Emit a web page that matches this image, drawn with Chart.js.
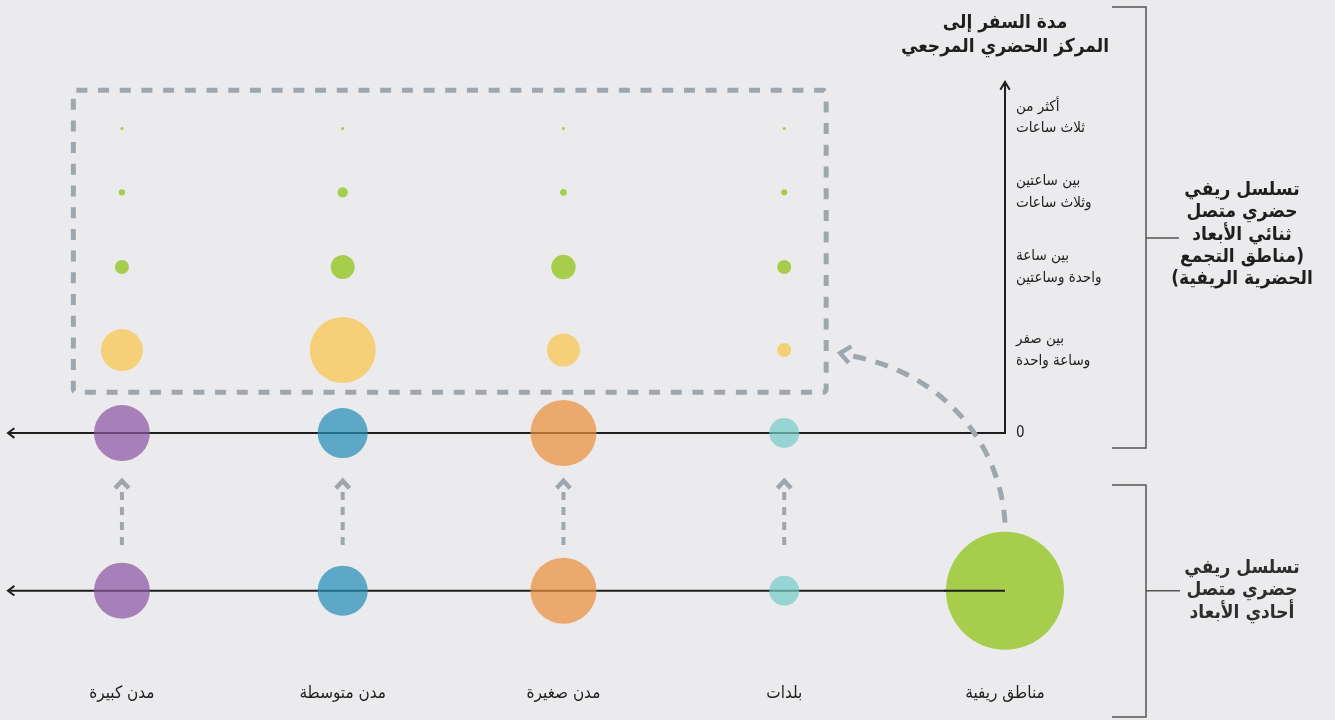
<!DOCTYPE html>
<html lang="ar">
<head>
<meta charset="utf-8">
<title>تسلسل ريفي حضري متصل</title>
<script src="https://cdn.jsdelivr.net/npm/chart.js@4.4.1/dist/chart.umd.min.js"></script>
<style>
  html, body { margin: 0; padding: 0; background: #ebebed; }
  #wrap { width: 1335px; height: 720px; }
</style>
</head>
<body>
<div id="wrap"><canvas id="chart" width="1335" height="720"></canvas></div>
<script>
// settlement types along the x-axis, rural areas first (they sit on the right)
const settlementTypes = ['مناطق ريفية', 'بلدات', 'مدن صغيرة', 'مدن متوسطة', 'مدن كبيرة'];
// travel time to the reference urban centre (y-axis); the empty line lifts the top label a little
const travelTimeLabels = ['0', ['بين صفر', 'وساعة واحدة'], ['بين ساعة', 'واحدة وساعتين'],
  ['بين ساعتين', 'وثلاث ساعات'], ['أكثر من', 'ثلاث ساعات', '']];
const travelTimeLevels = [0, 1, 2, 2.9, 3.67];
const oneDimLevel = -1.9;

// share of population (%), one-dimensional continuum
const oneDimShare = [56.1, 3.6, 17.6, 10.1, 12.6];
// two-dimensional continuum: towns and cities stay on the zero line
const urbanShare = [3.6, 17.6, 10.1, 12.6];          // بلدات .. مدن كبيرة
// rural agglomerations by travel time to their reference centre (بلدات .. مدن كبيرة)
const ruralUnder1h = [0.8, 4.4, 17.5, 7.1];
const rural1to2h = [0.8, 2.4, 2.3, 0.8];
const rural2to3h = [0.15, 0.18, 0.44, 0.16];
const ruralOver3h = [0.04, 0.04, 0.04, 0.04];

const typeColours = ['#a6ce4c', 'rgba(114,204,196,0.7)', 'rgba(235,141,56,0.7)',
  'rgba(31,139,181,0.7)', 'rgba(139,82,163,0.7)'];
const nearColour = '#f5d078';
const farColour = '#a6ce4c';
const ink = '#1f1f1f';
const dashGrey = '#9ea7ad';
const FONT = "'DejaVu Sans Condensed', 'DejaVu Sans', sans-serif";

const radiusOf = v => Math.sqrt(v) * 7.88;
const row = (values, level, first) => values.map((v, i) => ({ x: i + first, y: level, r: radiusOf(v) }));

function chevron(ctx, x, y, angle, len, spread) {
  ctx.beginPath();
  ctx.moveTo(x + len * Math.cos(angle - spread), y + len * Math.sin(angle - spread));
  ctx.lineTo(x, y);
  ctx.lineTo(x + len * Math.cos(angle + spread), y + len * Math.sin(angle + spread));
  ctx.stroke();
}

// keep Chart.js from adding room for overhanging tick labels
function noPadding(s) {
  s.paddingLeft = s.paddingRight = s.paddingTop = s.paddingBottom = 0;
}

const decorations = {
  id: 'decorations',
  beforeDatasetsDraw(chart) {
    const { ctx, chartArea } = chart;
    const xs = chart.scales.x, ys = chart.scales.y;
    const x0 = xs.getPixelForValue(0);
    const yZero = ys.getPixelForValue(0);
    const yOne = ys.getPixelForValue(oneDimLevel);
    ctx.save();

    // axes: travel-time axis and the two settlement lines
    ctx.strokeStyle = ink;
    ctx.lineWidth = 2;
    ctx.lineJoin = 'miter';
    ctx.beginPath();
    ctx.moveTo(chartArea.left, yZero);
    ctx.lineTo(x0, yZero);
    ctx.lineTo(x0, chartArea.top);
    ctx.moveTo(chartArea.left, yOne);
    ctx.lineTo(x0, yOne);
    ctx.stroke();
    chevron(ctx, chartArea.left, yZero, 0, 8, 0.65);
    chevron(ctx, chartArea.left, yOne, 0, 8, 0.65);
    chevron(ctx, x0, chartArea.top, Math.PI / 2, 9, 0.55);

    // dashed frame around the rural agglomerations
    ctx.strokeStyle = dashGrey;
    ctx.lineWidth = 5;
    ctx.setLineDash([11, 10.7]);
    const fx1 = xs.getPixelForValue(4.22), fx2 = xs.getPixelForValue(0.81);
    const fy1 = ys.getPixelForValue(4.13), fy2 = ys.getPixelForValue(0.49);
    ctx.beginPath();
    ctx.roundRect(fx1, fy1, fx2 - fx1, fy2 - fy1, 3);
    ctx.stroke();

    // dashed arrows from the one-dimensional line up to the zero line
    const yMid = ys.getPixelForValue(oneDimLevel / 2);
    ctx.lineWidth = 4;
    for (let i = 1; i < settlementTypes.length; i++) {
      const x = xs.getPixelForValue(i);
      ctx.setLineDash([8, 7]);
      ctx.beginPath();
      ctx.moveTo(x, yMid + 33);
      ctx.lineTo(x, yMid - 20);
      ctx.stroke();
      ctx.setLineDash([]);
      ctx.lineWidth = 4.5;
      chevron(ctx, x, yMid - 31, Math.PI / 2, 10, 0.75);
      ctx.lineWidth = 4;
    }

    // curved arrow from the rural areas into the frame
    const startY = yOne - radiusOf(oneDimShare[0]) - 9;
    const endX = fx2 + 20, endY = ys.getPixelForValue(1) + 5;
    const c1 = [x0 - 5, startY - 82], c2 = [x0 - 65, endY + 15];
    ctx.lineWidth = 5;
    ctx.setLineDash([13, 10]);
    ctx.beginPath();
    ctx.moveTo(x0, startY);
    ctx.bezierCurveTo(c1[0], c1[1], c2[0], c2[1], endX, endY);
    ctx.stroke();
    ctx.setLineDash([]);
    ctx.lineWidth = 4.5;
    const ang = Math.atan2(c2[1] - endY, c2[0] - endX);
    chevron(ctx, endX - 6, endY - 2, ang, 13, 0.7);
    ctx.restore();
  },
  afterDatasetsDraw(chart) {
    // the bottom line runs on top of the rural bubble up to its centre
    const { ctx } = chart;
    const x0 = chart.scales.x.getPixelForValue(0);
    const yOne = chart.scales.y.getPixelForValue(oneDimLevel);
    ctx.save();
    ctx.strokeStyle = ink;
    ctx.lineWidth = 2;
    ctx.beginPath();
    ctx.moveTo(x0 - radiusOf(oneDimShare[0]) - 2, yOne);
    ctx.lineTo(x0, yOne);
    ctx.stroke();
    ctx.restore();
  },
  afterDraw(chart) {
    const { ctx } = chart;
    const x0 = chart.scales.x.getPixelForValue(0);
    const yOne = chart.scales.y.getPixelForValue(oneDimLevel);
    ctx.save();
    ctx.direction = 'rtl';
    ctx.fillStyle = ink;
    ctx.textAlign = 'center';
    ctx.textBaseline = 'middle';

    // axis title
    ctx.font = 'bold 19px ' + FONT;
    ctx.fillText('مدة السفر إلى', x0, 23);
    ctx.fillText('المركز الحضري المرجعي', x0, 47);

    // brackets on the right
    ctx.strokeStyle = '#555';
    ctx.lineWidth = 1.5;
    ctx.beginPath();
    ctx.moveTo(1112, 7); ctx.lineTo(1146, 7); ctx.lineTo(1146, 448); ctx.lineTo(1112, 448);
    ctx.moveTo(1146, 238); ctx.lineTo(1179, 238);
    ctx.moveTo(1112, 485); ctx.lineTo(1146, 485); ctx.lineTo(1146, 717); ctx.lineTo(1112, 717);
    ctx.moveTo(1146, yOne); ctx.lineTo(1180, yOne);
    ctx.stroke();

    ctx.font = 'bold 19px ' + FONT;
    const twoDim = ['تسلسل ريفي', 'حضري متصل', 'ثنائي الأبعاد', '(مناطق التجمع', 'الحضرية الريفية)'];
    twoDim.forEach((t, i) => ctx.fillText(t, 1242, 190 + i * 22.3));
    ctx.fillStyle = '#2e2e2e';
    const oneDim = ['تسلسل ريفي', 'حضري متصل', 'أحادي الأبعاد'];
    oneDim.forEach((t, i) => ctx.fillText(t, 1242, yOne - 23 + i * 22.5));
    ctx.restore();
  }
};

Chart.defaults.font.family = FONT;
Chart.defaults.color = ink;

new Chart(document.getElementById('chart'), {
  type: 'bubble',
  data: {
    datasets: [
      { label: 'أحادي الأبعاد', data: row(oneDimShare, oneDimLevel, 0), backgroundColor: typeColours },
      { label: 'صفر', data: row(urbanShare, 0, 1), backgroundColor: typeColours.slice(1) },
      { label: 'بين صفر وساعة واحدة', data: row(ruralUnder1h, travelTimeLevels[1], 1), backgroundColor: nearColour },
      { label: 'بين ساعة واحدة وساعتين', data: row(rural1to2h, travelTimeLevels[2], 1), backgroundColor: farColour },
      { label: 'بين ساعتين وثلاث ساعات', data: row(rural2to3h, travelTimeLevels[3], 1), backgroundColor: farColour },
      { label: 'أكثر من ثلاث ساعات', data: row(ruralOver3h, travelTimeLevels[4], 1), backgroundColor: farColour }
    ]
  },
  options: {
    responsive: false,
    animation: false,
    events: [],
    clip: false,
    elements: { point: { borderWidth: 0, hoverBorderWidth: 0 } },
    layout: { autoPadding: false, padding: { left: 8, top: 82, right: 0, bottom: 0 } },
    plugins: { legend: { display: false }, tooltip: { enabled: false } },
    scales: {
      x: {
        type: 'linear',
        reverse: true,
        min: 0,
        max: 4.516,
        grid: { display: false, drawTicks: false },
        border: { display: false },
        afterBuildTicks: s => { s.ticks = settlementTypes.map((_, i) => ({ value: i })); },
        afterFit: s => { s.height = 38; noPadding(s); },
        ticks: {
          padding: 1,
          maxRotation: 0,
          autoSkip: false,
          font: { size: 17 },
          callback: v => settlementTypes[v]
        }
      },
      y: {
        type: 'linear',
        position: 'right',
        min: -3,
        max: 4.23,
        grid: { display: false, drawTicks: false },
        border: { display: false },
        afterBuildTicks: s => { s.ticks = travelTimeLevels.map(v => ({ value: v })); },
        afterFit: s => { s.width = 330; noPadding(s); },
        ticks: {
          padding: 11,
          autoSkip: false,
          font: { size: 15, lineHeight: 1.45 },
          callback: v => travelTimeLabels[travelTimeLevels.indexOf(v)]
        }
      }
    }
  },
  plugins: [decorations]
});
</script>
</body>
</html>
